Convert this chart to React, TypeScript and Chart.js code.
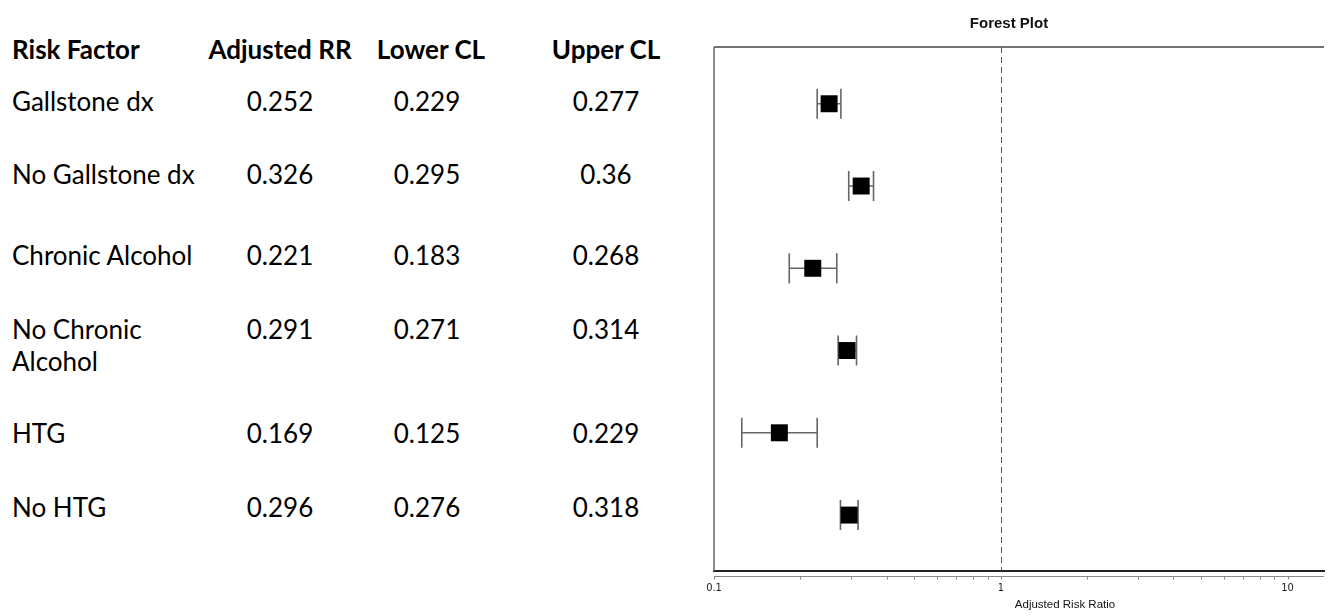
import React, { useEffect, useRef } from "react";
import { Chart, registerables } from "chart.js";

Chart.register(...registerables);

// ---- data ----
const headers = ["Risk Factor", "Adjusted RR", "Lower CL", "Upper CL"];
const riskFactors = ["Gallstone dx", "No Gallstone dx", "Chronic Alcohol", "No Chronic\nAlcohol", "HTG", "No HTG"];
const adjustedRR = [0.252, 0.326, 0.221, 0.291, 0.169, 0.296];
const lowerCL = [0.229, 0.295, 0.183, 0.271, 0.125, 0.276];
const upperCL = [0.277, 0.36, 0.268, 0.314, 0.229, 0.318];
const xTickValues = [0.1, 0.2, 0.3, 0.4, 0.5, 0.6, 0.7, 0.8, 0.9, 1, 2, 3, 4, 5, 6, 7, 8, 9, 10];
const xTickLabels = ["0.1", "1", "10"];
const chartTitle = "Forest Plot";
const xAxisTitle = "Adjusted Risk Ratio";

// ---- layout (page pixels) ----
const tableFont = "Lato, 'Open Sans', sans-serif";
const tableFontSize = 26;
const lineH = 32;
const capCenterOffset = 16.7; // distance from line-box top to cap-height centre
const headerY = 49.5;
const rowTextY = [102, 175, 256, 330, 434, 507.5];
const headerCenters = [12, 280, 431, 606];
const valueCenters = [280, 427, 606];

const forestPlugin = {
  id: "forestDecor",
  beforeDatasetsDraw(chart: any) {
    const { ctx, chartArea, scales } = chart;
    const xs = scales.x;
    const ys = scales.y;
    ctx.save();
    // top frame line
    ctx.strokeStyle = "#444";
    ctx.lineWidth = 1.5;
    ctx.beginPath();
    ctx.moveTo(chartArea.left, chartArea.top);
    ctx.lineTo(chartArea.right, chartArea.top);
    ctx.stroke();
    // left frame line
    ctx.strokeStyle = "#666";
    ctx.beginPath();
    ctx.moveTo(chartArea.left, chartArea.top);
    ctx.lineTo(chartArea.left, chartArea.bottom);
    ctx.stroke();
    // reference line at RR = 1
    const x1 = Math.round(xs.getPixelForValue(1)) + 0.5;
    ctx.strokeStyle = "#555";
    ctx.lineWidth = 1;
    ctx.setLineDash([6, 4]);
    ctx.beginPath();
    ctx.moveTo(x1, chartArea.top);
    ctx.lineTo(x1, chartArea.bottom);
    ctx.stroke();
    ctx.setLineDash([]);
    // error bars
    ctx.strokeStyle = "#666";
    ctx.lineWidth = 1.6;
    for (let i = 0; i < adjustedRR.length; i++) {
      const y = ys.getPixelForValue(i);
      const a = xs.getPixelForValue(lowerCL[i]);
      const b = xs.getPixelForValue(upperCL[i]);
      ctx.beginPath();
      ctx.moveTo(a, y);
      ctx.lineTo(b, y);
      ctx.moveTo(a, y - 15);
      ctx.lineTo(a, y + 15);
      ctx.moveTo(b, y - 15);
      ctx.lineTo(b, y + 15);
      ctx.stroke();
    }
    // secondary thin axis line with short tick marks hanging below it
    const yl = chartArea.bottom + 5.5;
    ctx.strokeStyle = "#888";
    ctx.lineWidth = 1;
    ctx.beginPath();
    ctx.moveTo(chartArea.left, yl);
    ctx.lineTo(chartArea.right, yl);
    for (const t of xs.ticks) {
      const px = Math.round(xs.getPixelForValue(t.value)) + 0.5;
      ctx.moveTo(px, yl);
      ctx.lineTo(px, yl + 3);
    }
    ctx.stroke();
    ctx.restore();
  },
  afterDraw(chart: any) {
    const { ctx } = chart;
    ctx.save();
    ctx.fillStyle = "#111";
    ctx.textAlign = "center";
    ctx.textBaseline = "middle";
    ctx.font = "bold 15px 'Liberation Sans', Arial, sans-serif";
    ctx.fillText(chartTitle, 309, 24);
    ctx.font = "11.5px 'Liberation Sans', Arial, sans-serif";
    ctx.fillText(xAxisTitle, 365, 605);
    ctx.restore();
  },
};

function ForestChart() {
  const ref = useRef<HTMLCanvasElement | null>(null);
  useEffect(() => {
    if (!ref.current) return;
    const chart = new Chart(ref.current, {
      type: "scatter",
      data: {
        datasets: [
          {
            data: adjustedRR.map((v, i) => ({ x: v, y: i })),
            pointStyle: "rect",
            pointRadius: 12,
            pointHoverRadius: 12,
            backgroundColor: "#000",
            borderColor: "#000",
            borderWidth: 0,
          },
        ],
      },
      options: {
        animation: false,
        responsive: false,
        events: [],
        layout: { padding: { left: 14, right: 6, top: 47, bottom: 0 } },
        plugins: { legend: { display: false }, tooltip: { enabled: false }, title: { display: false } },
        scales: {
          x: {
            type: "logarithmic",
            min: 0.1,
            max: 13.4,
            afterBuildTicks: (s: any) => {
              s.ticks = xTickValues.map((v) => ({ value: v }));
            },
            afterFit: (s: any) => {
              s.height = 45;
              s.paddingLeft = 0;
              s.paddingRight = 0;
            },
            ticks: {
              autoSkip: false,
              maxRotation: 0,
              padding: 11,
              color: "#222",
              font: { size: 11, family: "'DejaVu Sans Condensed', 'DejaVu Sans', sans-serif" },
              callback: (v: any) => (xTickLabels.includes(String(v)) ? String(v) : ""),
            },
            grid: { display: true, drawOnChartArea: false, drawTicks: false, color: "rgba(0,0,0,0)" },
            border: { display: true, color: "#222", width: 2 },
          },
          y: { type: "linear", min: -0.69, max: 5.68, reverse: true, display: false },
        },
      },
      plugins: [forestPlugin],
    } as any);
    return () => chart.destroy();
  }, []);
  return <canvas ref={ref} width={636} height={616} style={{ width: 636, height: 616, display: "block" }} />;
}

const textStyle = (bold: boolean): React.CSSProperties => ({
  position: "absolute",
  fontFamily: tableFont,
  fontSize: tableFontSize,
  fontWeight: bold ? 700 : 400,
  lineHeight: lineH + "px",
  whiteSpace: "pre",
  color: "#000",
});

export default function App() {
  const cell = (content: string, cx: number, y: number, key: string, bold = false, left = false) => (
    <div
      key={key}
      style={{
        ...textStyle(bold),
        left: cx,
        top: y - capCenterOffset,
        transform: left ? undefined : "translateX(-50%)",
      }}
    >
      {content}
    </div>
  );
  return (
    <div style={{ position: "absolute", left: 0, top: 0, width: 1336, height: 616, background: "#fff", overflow: "hidden" }}>
      {headers.map((h, i) => cell(h, headerCenters[i], headerY, "h" + i, true, i === 0))}
      {riskFactors.map((f, i) => cell(f, 12, rowTextY[i], "f" + i, false, true))}
      {adjustedRR.map((v, i) => cell(String(v), valueCenters[0], rowTextY[i], "r" + i))}
      {lowerCL.map((v, i) => cell(String(v), valueCenters[1], rowTextY[i], "l" + i))}
      {upperCL.map((v, i) => cell(String(v), valueCenters[2], rowTextY[i], "u" + i))}
      <div style={{ position: "absolute", left: 700, top: 0 }}>
        <ForestChart />
      </div>
    </div>
  );
}
